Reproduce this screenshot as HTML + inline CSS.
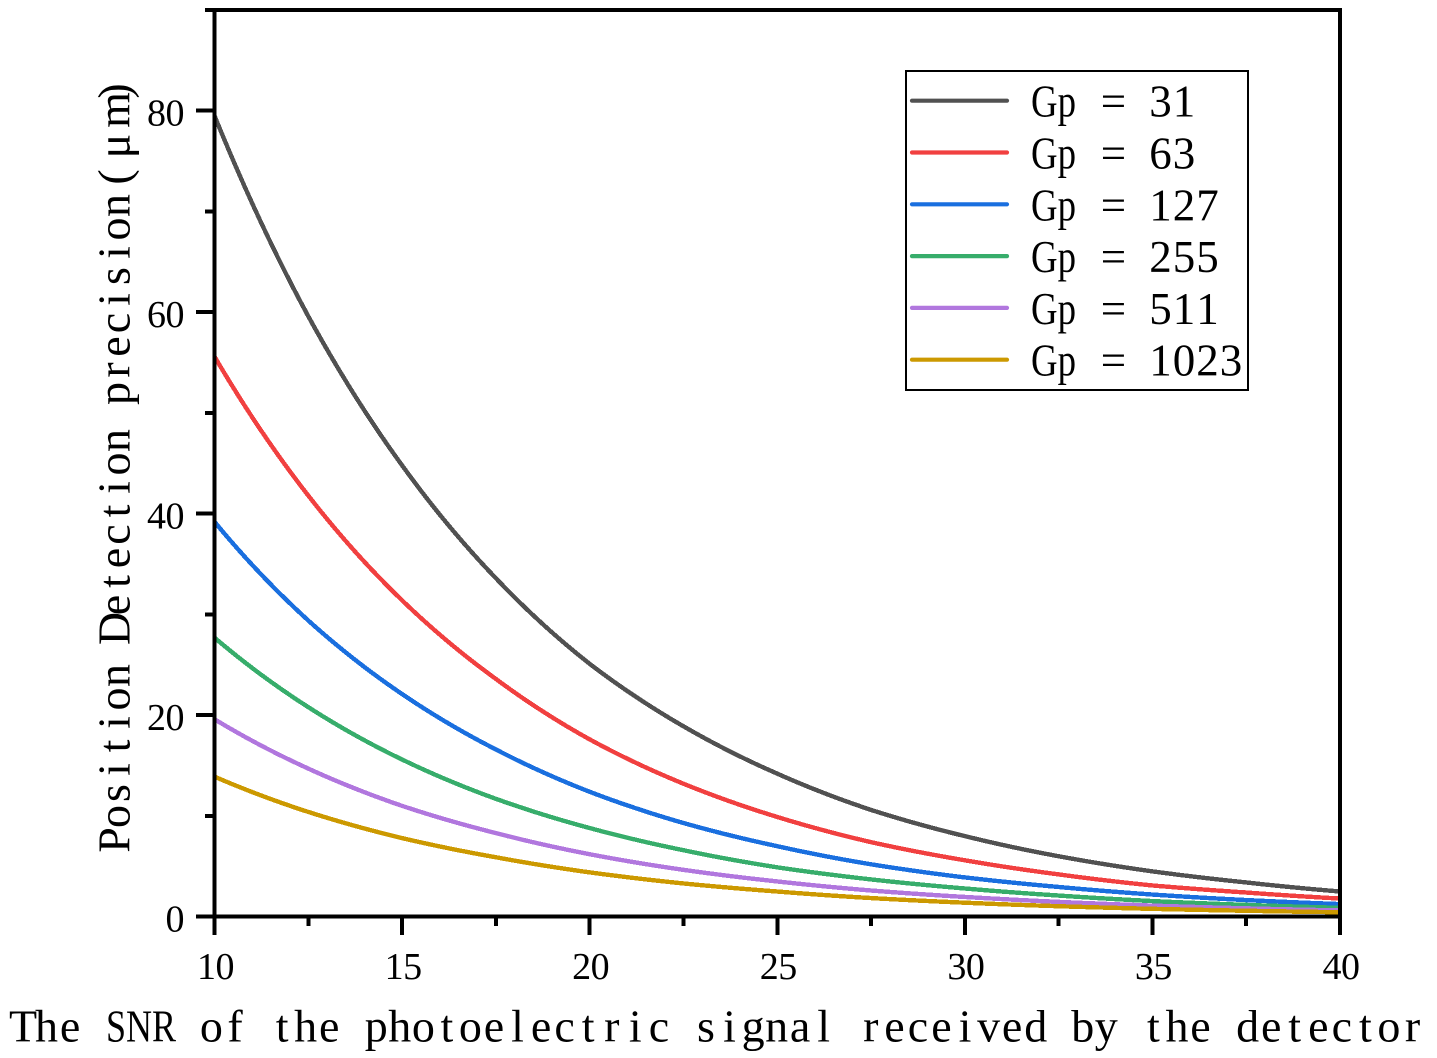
<!DOCTYPE html>
<html lang="en">
<head>
<meta charset="utf-8">
<title>Position detection precision vs SNR</title>
<style>
html,body{margin:0;padding:0;background:#fff;width:1437px;height:1058px;overflow:hidden}
svg{display:block}
text{font-family:"Liberation Serif","Noto Serif CJK SC",serif;fill:#000}
</style>
</head>
<body>
<svg id="chart" xmlns="http://www.w3.org/2000/svg" width="1437" height="1058" viewBox="0 0 1437 1058">
  <g id="series-layer"></g>
  <g id="axis-layer"></g>
  <g id="legend-layer"></g>
  <text id="x-title" y="1041.5" font-size="46" text-anchor="middle"><tspan id="x-title-a">The </tspan><tspan id="x-title-b" x="141" textLength="70" lengthAdjust="spacingAndGlyphs">SNR</tspan><tspan id="x-title-c"> of the photoelectric signal received by the detector</tspan></text>
  <text id="y-title" transform="translate(129.5,0) rotate(-90)" y="0" font-size="46" text-anchor="middle">Position Detection precision(μm)</text>
</svg>
<script>
const snrValues = [10, 12.5, 15, 17.5, 20, 22.5, 25, 27.5, 30, 32.5, 35, 37.5, 40];
const seriesNames = ["Gp = 31", "Gp = 63", "Gp = 127", "Gp = 255", "Gp = 511", "Gp = 1023"];
const gp31 = [79.5, 59.6, 44.8, 33.6, 25.1, 18.9, 14.2, 10.6, 8.0, 6.0, 4.5, 3.4, 2.5];
const gp63 = [55.6, 41.8, 31.4, 23.6, 17.6, 13.2, 9.9, 7.4, 5.6, 4.2, 3.1, 2.4, 1.8];
const gp127 = [39.2, 29.4, 22.1, 16.6, 12.4, 9.3, 7.0, 5.2, 3.9, 2.95, 2.2, 1.65, 1.25];
const gp255 = [27.7, 20.8, 15.6, 11.7, 8.8, 6.6, 4.9, 3.7, 2.8, 2.1, 1.55, 1.17, 0.88];
const gp511 = [19.6, 14.7, 11.0, 8.3, 6.2, 4.65, 3.5, 2.6, 1.96, 1.47, 1.1, 0.83, 0.62];
const gp1023 = [13.9, 10.4, 7.8, 5.9, 4.4, 3.3, 2.5, 1.85, 1.39, 1.04, 0.78, 0.59, 0.44];
const xMajorTicks = [10, 15, 20, 25, 30, 35, 40];
const xMinorTicks = [12.5, 17.5, 22.5, 27.5, 32.5, 37.5];
const yMajorTicks = [0, 20, 40, 60, 80];
const yMinorTicks = [10, 30, 50, 70, 90];

const allSeries = [gp31, gp63, gp127, gp255, gp511, gp1023];
const colors = ["#515151", "#F14040", "#1A6FDF", "#37AD6B", "#B177DE", "#CC9900"];
const NS = "http://www.w3.org/2000/svg";
const xMin = 10, xMax = 40, yMin = 0, yMax = 90;
const plotLeft = 214.5, plotRight = 1340, plotBottom = 916.7, plotTop = 10;
function xScale(v) { return plotLeft + (v - xMin) / (xMax - xMin) * (plotRight - plotLeft); }
function yScale(v) { return plotBottom - (v - yMin) / (yMax - yMin) * (plotBottom - plotTop); }
function mk(tag, attrs, parent) {
  const el = document.createElementNS(NS, tag);
  for (const k in attrs) el.setAttribute(k, attrs[k]);
  parent.appendChild(el);
  return el;
}
function curvePath(xs, ys) {
  let d = "M" + xScale(xs[0]).toFixed(2) + " " + yScale(ys[0]).toFixed(2);
  for (let i = 0; i < xs.length - 1; i++) {
    const steps = 12;
    for (let s = 1; s <= steps; s++) {
      const t = s / steps;
      const xv = xs[i] + (xs[i + 1] - xs[i]) * t;
      const yv = ys[i] * Math.pow(ys[i + 1] / ys[i], t);
      d += "L" + xScale(xv).toFixed(2) + " " + yScale(yv).toFixed(2);
    }
  }
  return d;
}

const seriesLayer = document.getElementById("series-layer");
allSeries.forEach((vals, i) => {
  const path = mk("path", { d: curvePath(snrValues, vals), fill: "none", stroke: colors[i], "stroke-width": 4.4, "stroke-linejoin": "round", "shape-rendering": "crispEdges" }, seriesLayer);
  
  
});

const axisLayer = document.getElementById("axis-layer");
function axisLine(x1, y1, x2, y2, w, name) {
  const line = mk("line", { x1: x1, y1: y1, x2: x2, y2: y2, stroke: "#000", "stroke-width": w, "shape-rendering": "crispEdges" }, axisLayer);
  
  
}
axisLine(plotLeft, plotTop - 2, plotLeft, 935, 4, "y-axis-line");
axisLine(plotRight, plotTop - 2, plotRight, 935, 4, "right-axis-line");
axisLine(196, plotBottom, plotRight + 2, plotBottom, 4, "x-axis-line");
axisLine(plotLeft, plotTop, plotRight + 2, plotTop, 4, "top-axis-line");
yMajorTicks.forEach(v => {
  axisLine(196, yScale(v), plotLeft, yScale(v), 4, "y-major-tick");
  const t = mk("text", { x: 184, y: yScale(v) + 15, "font-size": 38, "text-anchor": "end", "letter-spacing": "-0.5" }, axisLayer);
  
  
  t.textContent = String(v);
});
yMinorTicks.forEach(v => axisLine(205, yScale(v), plotLeft, yScale(v), 4, "y-minor-tick"));
xMajorTicks.forEach(v => {
  axisLine(xScale(v), plotBottom, xScale(v), 935, 4, "x-major-tick");
  const t = mk("text", { x: xScale(v) + 1, y: 979, "font-size": 38, "text-anchor": "middle", "letter-spacing": "-0.5" }, axisLayer);
  
  
  t.textContent = String(v);
});
xMinorTicks.forEach(v => axisLine(xScale(v), plotBottom, xScale(v), 926, 4, "x-minor-tick"));

const legendLayer = document.getElementById("legend-layer");
const box = mk("rect", { x: 906, y: 71, width: 342, height: 319, fill: "#fff", stroke: "#000", "stroke-width": 2, "shape-rendering": "crispEdges" }, legendLayer);


seriesNames.forEach((name, i) => {
  const rowY = 100.7 + i * 51.8;
  const swatch = mk("line", { x1: 912, x2: 1007, y1: rowY, y2: rowY, stroke: colors[i], "stroke-width": 4.2, "stroke-linecap": "round" }, legendLayer);
  
  
  const label = mk("text", { y: rowY + 16, "font-size": 45, "text-anchor": "middle" }, legendLayer);
  
  
  const head = mk("tspan", { x: 1053.5, textLength: 45, lengthAdjust: "spacingAndGlyphs" }, label);
  head.textContent = name.slice(0, 2);
  const rest = name.slice(2);
  const restXs = Array.from(rest).map((c, k) => (1090 + k * 23.5).toFixed(1)).join(" ");
  const tail = mk("tspan", { x: restXs }, label);
  tail.textContent = rest;
});

function monoX(id, start, adv, first) {
  const el = document.getElementById(id);
  el.setAttribute("x", Array.from(el.textContent).map((c, k) => (start + (first + k) * adv).toFixed(1)).join(" "));
}
monoX("x-title-a", 23, 23.55, 0);
monoX("x-title-c", 23, 23.55, 7);
const yTitle = document.getElementById("y-title");
const yChars = Array.from(yTitle.textContent);
const tailCenters = [177, 146, 110, 91];
yTitle.setAttribute("x", yChars.map((c, k) => {
  const screenY = k < 28 ? 840 - k * 23.5 : tailCenters[k - 28];
  return (-screenY).toFixed(1);
}).join(" "));
</script>
</body>
</html>
